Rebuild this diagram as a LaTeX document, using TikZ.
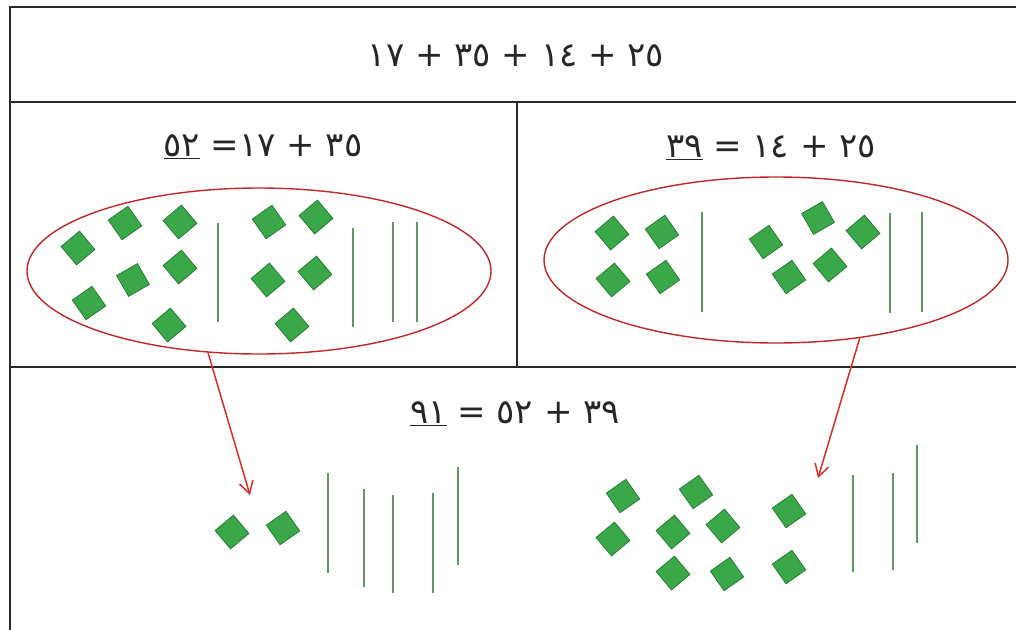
\documentclass[tikz,border=0pt]{standalone}
\usepackage{fontspec}
\TeXXeTstate=1
\newfontfamily\arfont[Script=Latin]{DejaVu Sans}
\usetikzlibrary{arrows.meta,shapes.geometric}
\definecolor{dgreen}{RGB}{58,168,72}
\definecolor{dgreenedge}{RGB}{40,125,55}
\definecolor{stick}{RGB}{95,150,100}
\definecolor{ringred}{RGB}{190,40,40}
\definecolor{arrowred}{RGB}{215,45,40}
\definecolor{framegray}{RGB}{40,40,40}
\tikzset{
  dia/.style={shape=rectangle, draw=dgreenedge, fill=dgreen, line width=0.8pt, minimum size=24pt, inner sep=0pt},
  stickline/.style={draw=stick, line width=1.6pt},
  ring/.style={ellipse, draw=ringred, line width=1.4pt, minimum width=464pt, minimum height=166pt, inner sep=0pt},
  framel/.style={draw=framegray, line width=2.4pt},
  eq/.style={text=black!85, font=\arfont\fontsize{34}{40}\selectfont, inner sep=0pt},
  link/.style={draw=arrowred, line width=1.5pt, -{Straight Barb[length=12pt,width=14pt,line width=1.5pt]}}
}
\begin{document}
\begin{tikzpicture}[x=1pt,y=-1pt]
\useasboundingbox (0,0) rectangle (1016,629);
\clip (0,0) rectangle (1016,629);
% frame
\draw[framel] (1030,7) -- (10,7) -- (10,640);
\draw[framel] (10,102) -- (1030,102);
\draw[framel] (10,367) -- (1030,367);
\draw[framel] (517,102) -- (517,367);
% texts
\node[eq] (top) at (516,56) {\beginR ٢٥ + ١٤ + ٣٥ + ١٧\endR};
\node[eq] (eqL) at (263,147) {\beginR ٣٥ + ١٧\kern0pt=\kern0pt{} \underline{٥٢}\endR};
\node[eq] (eqR) at (771,148) {\beginR ٢٥ + ١٤ = \underline{٣٩}\endR};
\node[eq] (eqB) at (515,414) {\beginR ٣٩ + ٥٢ = \underline{٩١}\endR};
% ellipses
\node[ring] (ellL) at (259,271) {};
\node[ring] (ellR) at (776,260) {};
% left ellipse contents
\node[dia,rotate=40] (l1) at (78,248) {};
\node[dia,rotate=35] (l2) at (125,223) {};
\node[dia,rotate=40] (l3) at (180,222) {};
\node[dia,rotate=30] (l4) at (133,280) {};
\node[dia,rotate=40] (l5) at (180,267) {};
\node[dia,rotate=35] (l6) at (89,303) {};
\node[dia,rotate=40] (l7) at (169,325) {};
\draw[stickline] (218,223) -- (218,322);
\node[dia,rotate=35] (l8) at (269,222) {};
\node[dia,rotate=40] (l9) at (316,217) {};
\node[dia,rotate=40] (l10) at (268,280) {};
\node[dia,rotate=40] (l11) at (315,273) {};
\node[dia,rotate=40] (l12) at (292,325) {};
\draw[stickline] (353,228) -- (353,327);
\draw[stickline] (393,222) -- (393,322);
\draw[stickline] (417,222) -- (417,322);
% right ellipse contents
\node[dia,rotate=40] (r1) at (612,233) {};
\node[dia,rotate=35] (r2) at (662,232) {};
\node[dia,rotate=40] (r3) at (613,280) {};
\node[dia,rotate=35] (r4) at (663,277) {};
\draw[stickline] (702,212) -- (702,312);
\node[dia,rotate=35] (r5) at (766,242) {};
\node[dia,rotate=30] (r6) at (818,218) {};
\node[dia,rotate=40] (r7) at (863,232) {};
\node[dia,rotate=35] (r8) at (789,277) {};
\node[dia,rotate=40] (r9) at (830,265) {};
\draw[stickline] (890,213) -- (890,313);
\draw[stickline] (922,212) -- (922,312);
% bottom left
\node[dia,rotate=40] (b1) at (232,532) {};
\node[dia,rotate=35] (b2) at (283,528) {};
\draw[stickline] (328,473) -- (328,573);
\draw[stickline] (364,489) -- (364,587);
\draw[stickline] (393,495) -- (393,593);
\draw[stickline] (433,493) -- (433,593);
\draw[stickline] (458,467) -- (458,565);
% bottom right
\node[dia,rotate=35] (c1) at (623,496) {};
\node[dia,rotate=40] (c2) at (613,539) {};
\node[dia,rotate=35] (c3) at (696,492) {};
\node[dia,rotate=40] (c4) at (673,532) {};
\node[dia,rotate=40] (c5) at (723,526) {};
\node[dia,rotate=40] (c6) at (673,573) {};
\node[dia,rotate=35] (c7) at (727,574) {};
\node[dia,rotate=35] (c8) at (789,511) {};
\node[dia,rotate=35] (c9) at (789,567) {};
\draw[stickline] (853,475) -- (853,572);
\draw[stickline] (893,473) -- (893,570);
\draw[stickline] (917,445) -- (917,543);
% arrows
\coordinate (endL) at (250,495);
\coordinate (endR) at (818,478);
\draw[link] (ellL.238) -- (endL);
\draw[link] (ellR.317) -- (endR);
\end{tikzpicture}
\end{document}
